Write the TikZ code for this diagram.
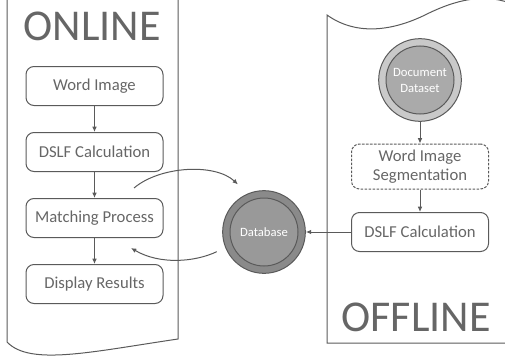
\documentclass[tikz,border=0pt]{standalone}
\usepackage{fontspec}
\setmainfont{Carlito}
\usetikzlibrary{arrows.meta}

\definecolor{linegray}{HTML}{5A5A5A}
\definecolor{txtgray}{HTML}{666666}
\definecolor{ringlight}{HTML}{C9C9C9}
\definecolor{corelight}{HTML}{AAAAAA}
\definecolor{ringdark}{HTML}{8A8A8A}
\definecolor{coredark}{HTML}{999999}

\tikzset{every picture/.style={line width=0.75pt}}
\tikzset{
  stepbox/.style={draw=linegray, rounded corners=6pt, minimum width=102.75pt, minimum height=29.25pt, text=txtgray, font=\fontsize{12.5}{14.5}\selectfont, inner sep=0.75pt, align=center},
  store/.style 2 args={circle, draw=linegray, fill=#1, minimum size=62pt, inner sep=0pt, text=white, font=\fontsize{9.5}{12}\selectfont, align=center,
    path picture={\draw[linegray, fill=#2] (path picture bounding box.center) circle (25.5pt);}},
  flow/.style={draw=linegray, -{Latex[length=4pt,width=3.5pt]}},
  sidetitle/.style={text=txtgray, font=\fontsize{33}{35}\selectfont, inner sep=0.75pt}
}

\begin{document}
\begin{tikzpicture}[x=0.75pt,y=0.75pt,yscale=-1,xscale=1]
\useasboundingbox (0,0) rectangle (505,360);

%Document shapes
\draw [linegray] (7,-3) -- (7,342) .. controls (30,366) and (90,352) .. (178,339) -- (178,-3) ;
\draw [linegray] (510,343) -- (327,343) -- (327,15) .. controls (355,35) and (390,32) .. (425,15) .. controls (455,0) and (485,-8) .. (515,5) ;

% Text Node
\draw (92,26) node [sidetitle] (online) {ONLINE};
% Text Node
\draw (416,317) node [sidetitle] (offline) {OFFLINE};

% Online steps
\draw (94.5,86) node [stepbox] (wimg) {Word Image};
\draw (94.5,152) node [stepbox] (dslfa) {DSLF Calculation};
\draw (94.5,218) node [stepbox] (match) {Matching Process};
\draw (94.5,284) node [stepbox] (disp) {Display Results};

% Offline steps
\draw (420,80) node [store={ringlight}{corelight}] (dataset) {Document\\Dataset};
\draw (420,166.5) node [stepbox, dash pattern=on 2pt off 1pt, minimum height=33.75pt] (seg) {Word Image\\Segmentation};
\draw (420,232) node [stepbox] (dslfb) {DSLF Calculation};

% Database
\draw (264,232) node [store={ringdark}{coredark}] (db) {Database};

%Straight Lines
\draw [flow] (wimg) -- (dslfa) ;
\draw [flow] (dslfa) -- (match) ;
\draw [flow] (match) -- (disp) ;
\draw [flow] (dataset) -- (seg) ;
\draw [flow] (seg) -- (dslfb) ;
\draw [flow] (dslfb) -- (db) ;

%Curve Lines
\coordinate (qry) at (134,188);
\coordinate (ret) at (131,248);
\draw [flow, shorten >=10pt] (qry) .. controls (160,166) and (215,163) .. (db.113) ;
\draw [flow, shorten <=7pt] (db.202) .. controls (195,262) and (160,265) .. (ret) ;

\end{tikzpicture}
\end{document}
